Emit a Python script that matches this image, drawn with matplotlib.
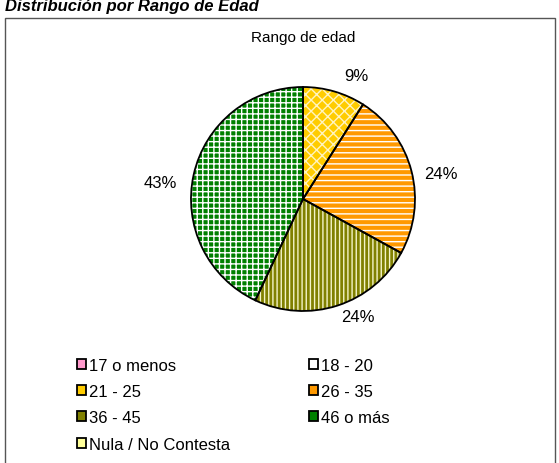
import matplotlib
matplotlib.use("Agg")
import matplotlib.pyplot as plt
from matplotlib.patches import Rectangle
import numpy as np

categories = ["17 o menos", "18 - 20", "21 - 25", "26 - 35", "36 - 45", "46 o más", "Nula / No Contesta"]
values = [0, 0, 9, 24, 24, 43, 0]
face_colors = ["#FF99CC", "#FFFFFF", "#FFCC00", "#FF9900", "#808000", "#008000", "#FFFF99"]
hatches = ["", "", "xxx", "---", "||||", "+++", ""]
hatch_colors = ["#FFFFFF", "#FFFFFF", "#FFF4C0", "#FFFFFF", "#F4F4C8", "#FFFFFF", "#FFFFFF"]
pct_labels = ["9%", "24%", "24%", "43%"]

W, H = 559, 464
fig = plt.figure(figsize=(W / 100, H / 100), dpi=100)
plt.rcParams['font.family'] = ['Liberation Sans', 'DejaVu Sans']
plt.rcParams['hatch.linewidth'] = 1.0

# frame
frame = Rectangle((5 / W, -0.01), 550 / W, (H - 19) / H + 0.01, transform=fig.transFigure,
                  fill=False, edgecolor="#555555", linewidth=1.0)
fig.add_artist(frame)
fig.text(5 / W, 1 - 7 / H, "Distribución por Rango de Edad", fontsize=12, fontweight="bold",
         fontstyle="italic", va="center", ha="left")
fig.text(303 / W, 1 - 38 / H, "Rango de edad", fontsize=11, ha="center", va="center")

cx, cy, r = 303, 200, 112
ax = fig.add_axes([(cx - r) / W, 1 - (cy + r) / H, 2 * r / W, 2 * r / H])
ax.set_aspect("equal")

nz = [i for i, v in enumerate(values) if v > 0]
vals = [values[i] for i in nz]
wedges, _ = ax.pie(vals, startangle=90, counterclock=False, radius=1.0,
                   colors=[face_colors[i] for i in nz])
for w, i in zip(wedges, nz):
    w.set_hatch(hatches[i])
    w.set_edgecolor(hatch_colors[i])
    w.set_linewidth(0)
ax.pie(vals, startangle=90, counterclock=False, radius=1.0,
       colors=["none"] * len(vals),
       wedgeprops=dict(edgecolor="black", linewidth=1.3, fill=False))

# label placement (radius, angle shift in degrees)
label_pos = [(1.2, -7), (1.25, -4), (1.16, 7), (1.28, 6)]
start = 90.0
tot = sum(vals)
for k, v in enumerate(vals):
    ang = start - 360 * v / tot / 2
    start -= 360 * v / tot
    rr, da = label_pos[k]
    a = np.deg2rad(ang + da)
    ax.text(rr * np.cos(a), rr * np.sin(a), pct_labels[k], ha="center", va="center", fontsize=12)
ax.set_xlim(-1, 1)
ax.set_ylim(-1, 1)
ax.axis("off")

order = [0, 2, 4, 6, 1, 3, 5]
handles = [Rectangle((0, 0), 1, 1, facecolor=face_colors[i], edgecolor="black", linewidth=1.3)
           for i in order]
labels = [categories[i] for i in order]
fig.legend(handles, labels, loc="upper left", bbox_to_anchor=(70 / W, 1 - 352 / H),
           ncol=2, frameon=False, fontsize=12, handlelength=0.55, handleheight=0.55,
           handletextpad=0.2, columnspacing=4.7, labelspacing=0.68, borderaxespad=0)
fig.savefig("out.png", dpi=100)
